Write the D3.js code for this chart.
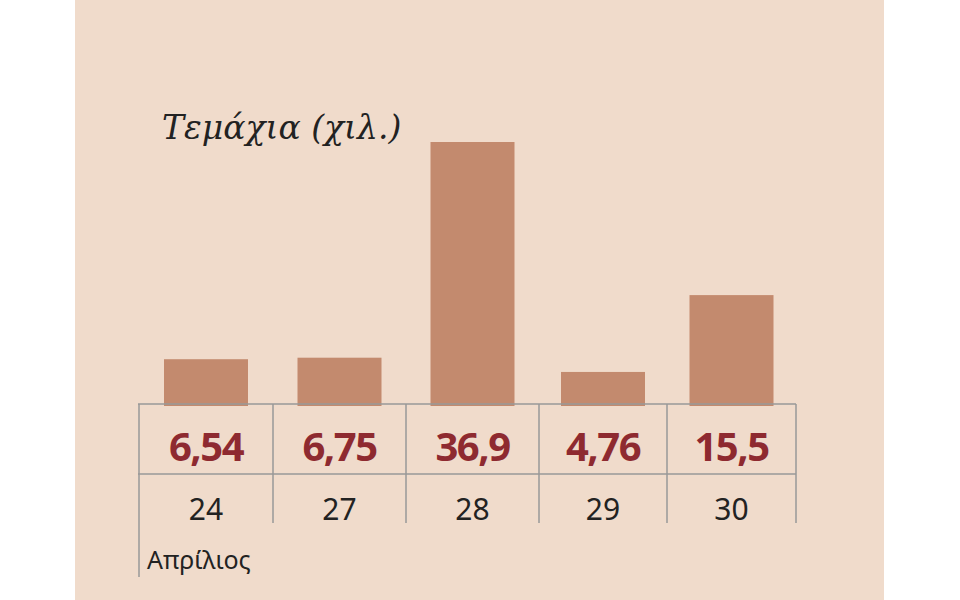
<!DOCTYPE html>
<html><head><meta charset="utf-8">
<script src="https://cdn.jsdelivr.net/npm/d3@7"></script>
<style>body{margin:0;background:#fff}</style>
</head><body>
<svg id="c" width="960" height="600"></svg>
<script>
var days = ['24', '27', '28', '29', '30'];
var values = [6.54, 6.75, 36.9, 4.76, 15.5];
var labels = ['6,54', '6,75', '36,9', '4,76', '15,5'];
var edges = [139, 273, 406, 539, 667, 796];

var svg = d3.select('#c');
svg.append('rect').attr('x', 75).attr('y', 0).attr('width', 809).attr('height', 600).attr('fill', '#f0dbcb');

var y = d3.scaleLinear().domain([0, 36.9]).range([406, 142]);

svg.selectAll('.bar').data(values).enter().append('rect')
  .attr('x', function(d, i){ return (edges[i] + edges[i+1]) / 2 - 42; })
  .attr('width', 84)
  .attr('y', function(d){ return y(d); })
  .attr('height', function(d){ return y(0) - y(d); })
  .attr('fill', '#c38a6e');

var line = '#999';
[404, 474].forEach(function(yy){
  svg.append('line').attr('x1', 138).attr('x2', 796).attr('y1', yy).attr('y2', yy).attr('stroke', line).attr('stroke-width', 1.5);
});
edges.forEach(function(x, i){
  svg.append('line').attr('x1', x).attr('x2', x).attr('y1', 404).attr('y2', i == 0 ? 577 : 523).attr('stroke', line).attr('stroke-width', 1.5);
});

svg.selectAll('.val').data(labels).enter().append('text')
  .attr('x', function(d, i){ return (edges[i] + edges[i+1]) / 2; })
  .attr('y', 461).attr('text-anchor', 'middle')
  .attr('font-family', 'Open Sans, sans-serif').attr('font-weight', 'bold').attr('font-size', 40)
  .attr('letter-spacing', -1.5).attr('fill', '#8e2a30').text(function(d){ return d; });

svg.selectAll('.day').data(days).enter().append('text')
  .attr('x', function(d, i){ return (edges[i] + edges[i+1]) / 2; })
  .attr('y', 520).attr('text-anchor', 'middle')
  .attr('font-family', 'Noto Sans, sans-serif').attr('font-size', 30)
  .attr('fill', '#222').text(function(d){ return d; });

svg.append('text').attr('x', 147).attr('y', 569)
  .attr('font-family', 'Noto Sans, sans-serif').attr('font-size', 25).attr('fill', '#222').text('Απρίλιος');

svg.append('text').attr('x', 162).attr('y', 139)
  .attr('font-family', 'DejaVu Serif, serif').attr('font-style', 'italic').attr('font-size', 33)
  .attr('fill', '#222').text('Τεμάχια (χιλ.)');
</script>
</body></html>
